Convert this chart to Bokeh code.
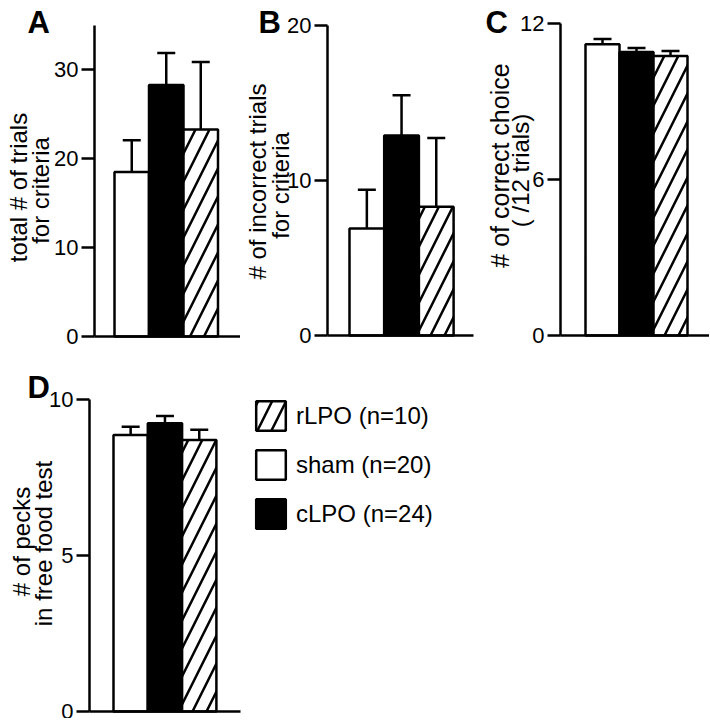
import math
from bokeh.plotting import figure
from bokeh.models import (ColumnDataSource, FixedTicker, Range1d, Label, Legend,
                          LegendItem, Whisker, TeeHead)
from bokeh.layouts import column, row
from bokeh.embed import file_html
from bokeh.resources import INLINE

# ---------------- data ----------------
groups = ["sham", "cLPO", "rLPO"]
group_labels = ["sham (n=20)", "cLPO (n=24)", "rLPO (n=10)"]
legend_order = ["rLPO", "sham", "cLPO"]

trials_mean = [18.5, 28.3, 23.3]
trials_sem = [3.6, 3.6, 7.6]
incorrect_mean = [6.9, 12.9, 8.3]
incorrect_sem = [2.5, 2.6, 4.45]
correct_mean = [11.2, 10.9, 10.75]
correct_sem = [0.2, 0.16, 0.19]
pecks_mean = [8.86, 9.24, 8.7]
pecks_sem = [0.27, 0.23, 0.33]

ticks_A = [0, 10, 20, 30]
ticks_B = [0, 10, 20]
ticks_C = [0, 6, 12]
ticks_D = [0, 5, 10]

label_A = ["total # of trials", "for criteria"]
label_B = ["# of incorrect trials", "for criteria"]
label_C = ["# of correct choice", "( /12 trials)"]
label_D = ["# of pecks", "in free food test"]

# ---------------- style ----------------
FONT = "Liberation Sans"
LW = 2.5
styles = {
    "sham": dict(fill_color="white", hatch_pattern=None),
    "cLPO": dict(fill_color="black", hatch_pattern=None),
    "rLPO": dict(fill_color="white", hatch_pattern="/"),
}


def make_panel(mean, sem, ymax, ticks, geom, letter, letter_px, lines, lines_px,
               line_sizes=("24px", "24px")):
    """geom: pixel layout of the panel inside its own figure."""
    W, H = geom["W"], geom["H"]
    axis_px, base_px, top_px = geom["axis"], geom["base"], geom["top"]
    bar_left, bar_w, right_px = geom["bar_left"], geom["bar_w"], geom["right"]

    ppu_y = (base_px - top_px) / ymax
    x0 = 0.5 - bar_left / bar_w

    def X(px):
        return x0 + px / bar_w

    def Y(py):
        return (base_px - py) / ppu_y

    p = figure(width=W, height=H, x_range=Range1d(X(0), X(W)),
               y_range=Range1d(Y(H), Y(0)), output_backend="svg",
               toolbar_location=None, title=None, min_border=0,
               outline_line_color=None, background_fill_color="white",
               border_fill_color="white")
    p.grid.visible = False

    renderers = {}
    for i, g in enumerate(groups):
        src = ColumnDataSource(dict(x=[i + 1], top=[mean[i]]))
        st = styles[g]
        kw = dict(x="x", top="top", bottom=0, width=1.0, source=src,
                  fill_color=st["fill_color"], line_color="black",
                  line_width=LW)
        if st["hatch_pattern"]:
            kw.update(hatch_pattern=st["hatch_pattern"], hatch_color="black",
                      hatch_scale=28, hatch_weight=LW)
        renderers[g] = p.vbar(**kw)

    esrc = ColumnDataSource(dict(
        x=[i + 1 for i in range(len(groups))],
        lower=list(mean),
        upper=[m + s for m, s in zip(mean, sem)]))
    w = Whisker(source=esrc, base="x", lower="lower", upper="upper",
                dimension="height", line_width=LW, line_color="black",
                upper_head=TeeHead(size=18, line_width=LW, line_color="black"),
                lower_head=None, level="annotation")
    p.add_layout(w)

    ax = p.yaxis[0]
    ax.fixed_location = X(axis_px)
    ax.bounds = (0, ymax)
    ax.ticker = FixedTicker(ticks=ticks)
    ax.major_tick_in = 0
    ax.major_tick_out = 13
    ax.minor_tick_line_color = None
    ax.axis_line_width = LW
    ax.major_tick_line_width = LW
    ax.major_label_text_font = FONT
    ax.major_label_text_font_size = "22px"
    ax.major_label_text_color = "black"
    ax.major_label_standoff = 3

    xa = p.xaxis[0]
    xa.fixed_location = 0
    xa.bounds = (X(axis_px), X(right_px))
    xa.major_tick_line_color = None
    xa.minor_tick_line_color = None
    xa.major_tick_out = 0
    xa.major_tick_in = 0
    xa.minor_tick_out = 0
    xa.major_label_text_font_size = "0px"
    xa.major_label_standoff = 0
    xa.axis_line_width = LW

    p.add_layout(Label(x=X(letter_px[0]), y=Y(letter_px[1]), text=letter,
                       text_font=FONT, text_font_style="bold",
                       text_font_size="31px", text_align="left",
                       text_baseline="middle", text_color="black"))
    for txt, (lx, ly), fs in zip(lines, lines_px, line_sizes):
        p.add_layout(Label(x=X(lx), y=Y(ly), text=txt, angle=math.pi / 2,
                           text_font=FONT, text_font_size=fs,
                           text_color="black",
                           text_align="center", text_baseline="middle"))
    return p, renderers


geom_A = dict(W=240, H=352, axis=94, base=336, top=25, bar_left=114,
              bar_w=34.5, right=240)
geom_B = dict(W=234, H=352, axis=87, base=335, top=25, bar_left=109,
              bar_w=34.7, right=233)
geom_C = dict(W=235, H=352, axis=86, base=335, top=23, bar_left=111,
              bar_w=34.0, right=235)
geom_D = dict(W=460, H=366, axis=89, base=359, top=47, bar_left=113,
              bar_w=34.3, right=240)

pA, _ = make_panel(trials_mean, trials_sem, 35, ticks_A, geom_A, "A", (27, 22),
                   label_A, [(18, 187), (40, 190)])
pB, _ = make_panel(incorrect_mean, incorrect_sem, 20, ticks_B, geom_B, "B",
                   (18, 22), label_B, [(17, 181), (40, 185)])
pC, _ = make_panel(correct_mean, correct_sem, 12, ticks_C, geom_C, "C",
                   (11, 22), label_C, [(25, 165), (46, 170)],
                   line_sizes=("25px", "24px"))
pD, rD = make_panel(pecks_mean, pecks_sem, 10, ticks_D, geom_D, "D", (27, 35),
                    label_D, [(21, 189), (43, 191)])

items = [LegendItem(label=group_labels[groups.index(g)], renderers=[rD[g]])
         for g in legend_order]
legend = Legend(items=items, location=(252, 186), glyph_width=37,
                glyph_height=37, spacing=12, padding=0, margin=0,
                label_standoff=7, label_text_font=FONT,
                label_text_font_size="24px", label_text_color="black",
                border_line_color=None, background_fill_alpha=0)
pD.add_layout(legend)

layout = column(row(pA, pB, pC), row(pD))
open("out.html", "w").write(file_html(layout, INLINE))
